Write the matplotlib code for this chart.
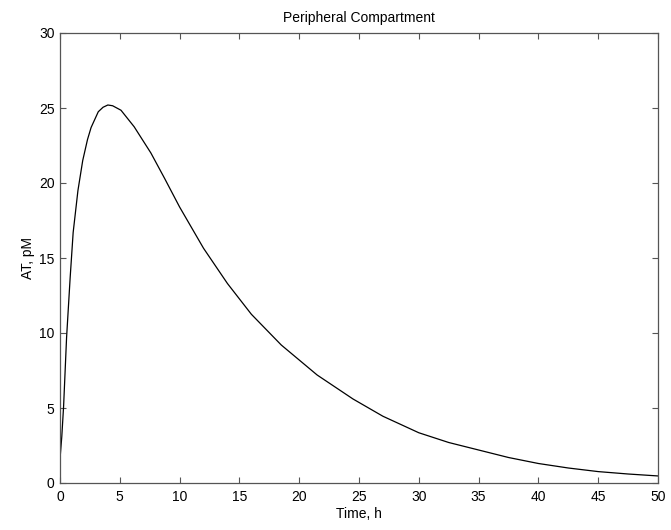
import matplotlib
matplotlib.use("Agg")
import matplotlib.pyplot as plt

# time (h) and peripheral concentration (pM)
time_h = [0, 0.15, 0.3, 0.55, 0.85, 1.1, 1.5, 1.9, 2.3, 2.6, 3.2, 3.6, 4.0,
          4.4, 5.1, 6.2, 7.6, 8.75, 10, 12, 14, 16, 18.5, 21.5, 24.5, 27, 30,
          32.5, 35, 37.5, 40, 42.5, 45, 47.5, 50]
at_pm = [1.6, 3.1, 5.1, 9.7, 13.7, 16.7, 19.5, 21.5, 22.9, 23.7, 24.75, 25.05,
         25.2, 25.15, 24.85, 23.75, 22.0, 20.3, 18.4, 15.65, 13.3, 11.25, 9.2,
         7.2, 5.6, 4.45, 3.35, 2.7, 2.2, 1.7, 1.3, 1.0, 0.76, 0.6, 0.47]

xticks = list(range(0, 51, 5))
yticks = list(range(0, 31, 5))

plt.rcParams['font.family'] = ['Liberation Sans', 'DejaVu Sans']
plt.rcParams['font.size'] = 10

fig = plt.figure(figsize=(6.71, 5.30), dpi=100)
ax = fig.add_axes([60 / 671, 47 / 530, 598 / 671, 450 / 530])

ax.plot(time_h, at_pm, color='black', linewidth=0.9)

ax.set_xlim(0, 50)
ax.set_ylim(0, 30)
ax.set_xticks(xticks)
ax.set_yticks(yticks)
ax.tick_params(direction='in', top=True, right=True, length=4,
               width=0.8, color='#555555')
ax.tick_params(axis='x', pad=5)
ax.tick_params(axis='y', pad=4)
for s in ax.spines.values():
    s.set_color('#555555')
    s.set_linewidth(0.9)

ax.set_title('Peripheral Compartment', fontsize=10, pad=8)
ax.set_xlabel('Time, h', labelpad=2)
ax.set_ylabel('AT, pM', labelpad=3)

fig.savefig('out.png', dpi=100)
